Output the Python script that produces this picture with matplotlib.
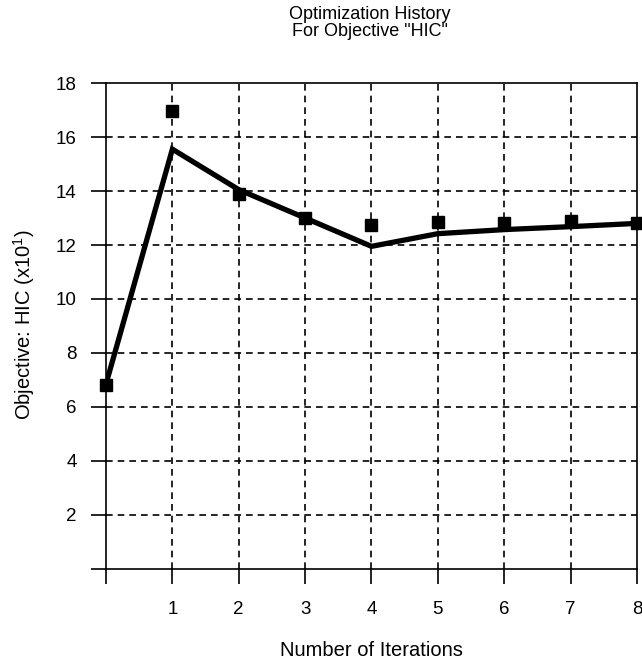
#
#	Optimization history chart for objective "HIC"
#

# ----- Imports ----- #

import matplotlib
matplotlib.use("Agg")
import matplotlib.pyplot as plt

# ----- Data ----- #

iterations = [0, 1, 2, 3, 4, 5, 6, 7, 8]
# Objective values of the accepted designs (solid line)
hic_history = [6.85, 15.55, 14.05, 13.0, 11.95, 12.42, 12.57, 12.68, 12.8]
# Objective values of the evaluated designs (squares)
hic_points = [6.83, 16.95, 13.9, 13.0, 12.75, 12.85, 12.83, 12.88, 12.83]

x_ticks = [0, 1, 2, 3, 4, 5, 6, 7, 8]
x_tick_labels = ["", "1", "2", "3", "4", "5", "6", "7", "8"]
y_ticks = [0, 2, 4, 6, 8, 10, 12, 14, 16, 18]
y_tick_labels = ["", "2", "4", "6", "8", "10", "12", "14", "16", "18"]

# ----- Plotting ----- #

plt.rcParams["font.family"] = ["Liberation Sans", "DejaVu Sans"]
plt.rcParams["mathtext.default"] = "regular"

fig = plt.figure(figsize=(6.42, 6.63), dpi=100)
ax = fig.add_axes([0.1651, 0.1418, 0.8271, 0.733])

# Grid lines
for x in x_ticks[1:-1]:
	ax.axvline(x, color="black", lw=1.2, ls=(0, (4, 3)), zorder=1)
for y in y_ticks[1:-1]:
	ax.axhline(y, color="black", lw=1.2, ls=(0, (4, 3)), zorder=1)

# History line and points
ax.plot(iterations, hic_history, color="black", lw=3.8, solid_joinstyle="miter", zorder=3)
ax.plot(iterations, hic_points, ls="none", marker="s", ms=9, color="black", zorder=4, clip_on=False)

ax.set_xlim(0, 8)
ax.set_ylim(0, 18)
ax.set_xticks(x_ticks)
ax.set_xticklabels(x_tick_labels)
ax.set_yticks(y_ticks)
ax.set_yticklabels(y_tick_labels)
ax.tick_params(direction="out", length=11, width=1.2, labelsize=13.5, pad=10)
ax.tick_params(axis="x", pad=12)
for spine in ax.spines.values():
	spine.set_linewidth(1.2)

# Labels
fig.text(0.576, 0.9655, 'Optimization History\nFor Objective "HIC"', ha="center", va="center",
		 fontsize=13, linespacing=1.05, multialignment="center")
fig.text(0.578, 0.0196, "Number of Iterations", ha="center", va="center", fontsize=14.5)
fig.text(0.037, 0.51, "Objective: HIC (x10$^1$)", ha="center", va="center", rotation=90, fontsize=14.5)

fig.savefig("out.png", dpi=100)
